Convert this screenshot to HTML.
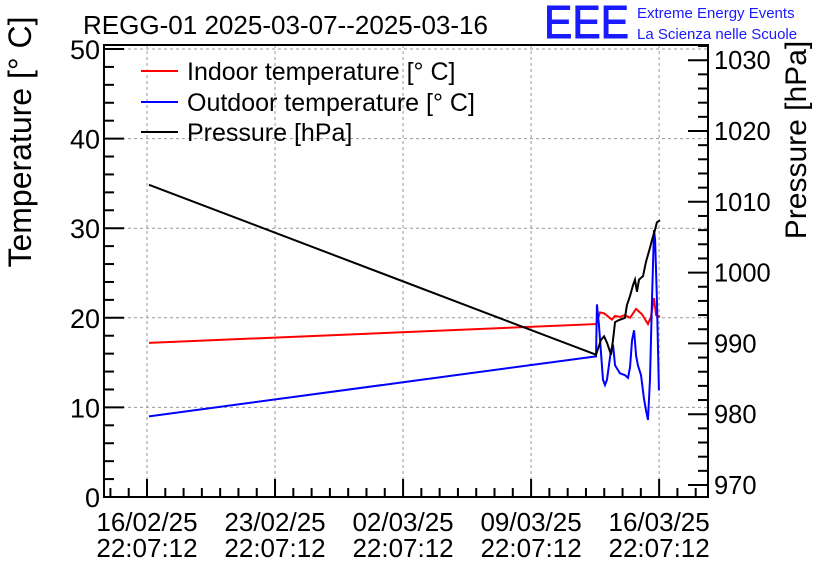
<!DOCTYPE html>
<html><head><meta charset="utf-8"><style>
body{margin:0;background:#fff;}
svg text{font-family:"Liberation Sans",Arial,sans-serif;}
</style></head><body>
<svg id="c" width="836" height="572" xmlns="http://www.w3.org/2000/svg">
<text x="83" y="34" font-size="26" textLength="405" lengthAdjust="spacingAndGlyphs">REGG-01 2025-03-07--2025-03-16</text>
<text x="544" y="38" font-size="46" fill="#1a1aff" stroke="#1a1aff" stroke-width="1" textLength="85" lengthAdjust="spacingAndGlyphs">EEE</text>
<text x="637" y="18" font-size="15" fill="#1a1aff">Extreme Energy Events</text>
<text x="637" y="39" font-size="15" fill="#1a1aff">La Scienza nelle Scuole</text>
<g id="grid"></g><g id="series"></g><g id="axes"></g>
<g>
<line x1="141" y1="71" x2="178" y2="71" stroke="#f00" stroke-width="2"/><text x="187" y="80" font-size="25">Indoor temperature [° C]</text>
<line x1="141" y1="102" x2="178" y2="102" stroke="#00f" stroke-width="2"/><text x="187" y="111" font-size="25">Outdoor temperature [° C]</text>
<line x1="141" y1="132" x2="178" y2="132" stroke="#000" stroke-width="2"/><text x="187" y="141" font-size="25">Pressure [hPa]</text>
</g>
<text transform="translate(31,142) rotate(-90)" text-anchor="middle" font-size="32">Temperature [° C]</text>
<text transform="translate(806,140) rotate(-90)" text-anchor="middle" font-size="30">Pressure [hPa]</text>
</svg>
<script>
const tickDays=[0,7,14,21,28];
const tickLabels=["16/02/25","23/02/25","02/03/25","09/03/25","16/03/25"];
const tempTicks=[0,10,20,30,40,50];
const presTicks=[970,980,990,1000,1010,1020,1030];
const inDays=[0.11,24.55,24.77,24.99,25.42,25.59,25.86,26.13,26.41,26.74,27.06,27.39,27.55,27.72,27.83,28.05];
const inVals=[17.2,19.3,20.6,20.5,19.8,20.2,20.1,20.3,20.0,21.0,20.4,19.3,20.1,22.2,20.3,20.1];
const outDays=[0.11,24.55,24.6,24.71,24.93,25.04,25.15,25.37,25.48,25.59,25.86,26.13,26.3,26.41,26.52,26.63,26.74,26.84,27.01,27.17,27.28,27.39,27.5,27.61,27.72,27.78,27.88,27.99];
const outVals=[9.0,15.7,21.5,19.2,13.1,12.5,13.1,16.4,17.0,14.7,13.8,13.6,13.3,14.5,17.5,18.6,15.8,14.7,13.6,11.0,9.7,8.6,13.1,22.0,29.8,28.7,22.0,11.9];
const pDays=[0.11,24.55,24.82,24.99,25.15,25.37,25.48,25.59,25.81,26.13,26.24,26.41,26.57,26.68,26.79,26.9,27.12,27.28,27.5,27.61,27.77,27.88,28.05];
const pVals=[1012.4,988.4,990.5,991.0,990.1,988.4,990.5,993.0,993.3,993.6,995.4,996.7,998.2,999.0,997.3,999.0,999.5,1001.5,1003.5,1004.6,1006.0,1007.1,1007.4];
const L=104,R=708,T=45,B=497;
const X=d=>147+d*18.29;
const YT=t=>497-t*8.96;
const YP=p=>485-(p-970)*7.08;
const NS="http://www.w3.org/2000/svg";
function mk(tag,attrs,parent){const e=document.createElementNS(NS,tag);for(const k in attrs)e.setAttribute(k,attrs[k]);parent.appendChild(e);return e;}
const grid=document.getElementById('grid'),axes=document.getElementById('axes'),ser=document.getElementById('series');
tickDays.forEach((d,i)=>{
 const g=mk('line',{x1:X(d),x2:X(d),y1:T,y2:B,stroke:'#999','stroke-dasharray':'3,3'},grid);
 
 
 const t1=mk('text',{x:X(d),y:531,'text-anchor':'middle','font-size':'26'},axes);t1.textContent=tickLabels[i];
 
 
 const t2=mk('text',{x:X(d),y:557,'text-anchor':'middle','font-size':'26'},axes);t2.textContent="22:07:12";
 
 
});
for(let d=-2;d<=30;d++){const x=X(d);if(x<L||x>R)continue;mk('line',{x1:x,x2:x,y1:B,y2:B-(d%7==0?18:9),stroke:'#000','stroke-width':2},axes);}
tempTicks.forEach(t=>{
 const g=mk('line',{x1:L,x2:R,y1:YT(t),y2:YT(t),stroke:'#999','stroke-dasharray':'3,3'},grid);
 
 
 const tx=mk('text',{x:L-4,y:YT(t)+10,'text-anchor':'end','font-size':'27'},axes);tx.textContent=t;
 
 
});
for(let t=0;t<=50;t+=2)mk('line',{x1:L,x2:L+(t%10==0?20:10),y1:YT(t),y2:YT(t),stroke:'#000','stroke-width':2},axes);
presTicks.forEach(p=>{
 const tx=mk('text',{x:R+6,y:YP(p)+9,'font-size':'25.5'},axes);tx.textContent=p;
 
 
});
for(let p=968;p<=1032;p+=2){const y=YP(p);if(y<T||y>B)continue;mk('line',{x1:R,x2:R-(p%10==0?20:10),y1:y,y2:y,stroke:'#000','stroke-width':2},axes);}
mk('rect',{x:L,y:T,width:R-L,height:B-T,fill:'none',stroke:'#000','stroke-width':2},axes);
function line(xs,ys,fy,col,name){
 const p=mk('polyline',{points:xs.map((d,i)=>X(d)+','+fy(ys[i])).join(' '),fill:'none',stroke:col,'stroke-width':2},ser);
 
 
}
line(inDays,inVals,YT,'#f00','indoor-temperature-line');
line(outDays,outVals,YT,'#00f','outdoor-temperature-line');
line(pDays,pVals,YP,'#000','pressure-line');
</script>
</body></html>
